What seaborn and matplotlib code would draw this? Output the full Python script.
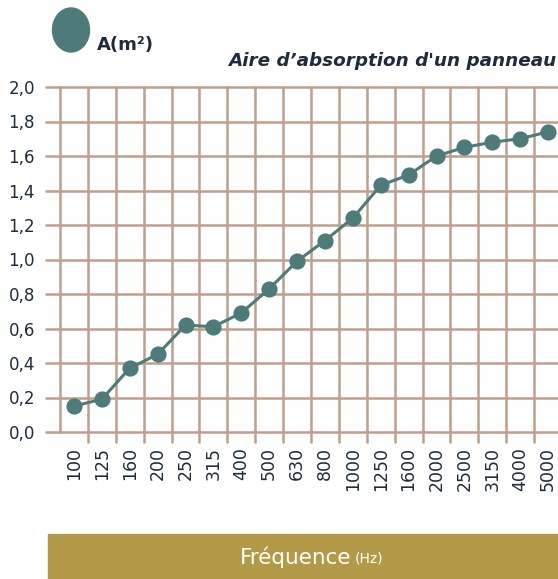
import numpy as np
import pandas as pd
import matplotlib
matplotlib.use("Agg")
import matplotlib.pyplot as plt
import seaborn as sns
from matplotlib.patches import Ellipse, Rectangle
from matplotlib.ticker import FixedLocator, FuncFormatter

# values
frequencies = ["100", "125", "160", "200", "250", "315", "400", "500", "630",
               "800", "1000", "1250", "1600", "2000", "2500", "3150", "4000", "5000"]
absorption = [0.15, 0.19, 0.37, 0.45, 0.62, 0.61, 0.69, 0.83, 0.99,
              1.11, 1.24, 1.43, 1.49, 1.60, 1.65, 1.68, 1.70, 1.74]
y_ticks = [0.0, 0.2, 0.4, 0.6, 0.8, 1.0, 1.2, 1.4, 1.6, 1.8, 2.0]

TEAL = "#4e7b7a"
GRID = "#bf9f8c"
INK = "#1d2b3b"
GOLD = "#b39a48"

sns.set_style("white")
plt.rcParams["font.family"] = ["DejaVu Sans"]

df = pd.DataFrame({"freq": frequencies, "A": absorption})

W, H = 558, 579
fig = plt.figure(figsize=(W / 100, H / 100), dpi=100)
ax = fig.add_axes([60 / W, (H - 432) / H, 502 / W, 345 / H])

sns.pointplot(data=df, x="freq", y="A", order=frequencies, color=TEAL,
              markers="o", markersize=10, linewidth=2.2, ax=ax, zorder=5)

n = len(frequencies)
ax.set_xlim(-0.5, n - 0.5)
ax.set_ylim(0, 2.0)

# grid on category boundaries (not clipped so edge lines keep full width)
for b in np.arange(-0.5, n, 1.0):
    ax.axvline(b, color=GRID, lw=1.8, zorder=1, clip_on=False)
for v in y_ticks:
    ax.axhline(v, color=GRID, lw=1.8, zorder=1, clip_on=False)

for s in ax.spines.values():
    s.set_visible(False)

ax.set_yticks(y_ticks)
ax.yaxis.set_major_formatter(FuncFormatter(lambda v, p: f"{v:.1f}".replace(".", ",")))
ax.tick_params(axis="y", length=11, width=1.8, color=GRID, pad=7,
               labelsize=12, labelcolor=INK, left=True)

ax.set_xticks(range(n))
ax.set_xticklabels(frequencies, rotation=90)
ax.tick_params(axis="x", which="major", length=0, pad=11,
               labelsize=12.5, labelcolor=INK)
ax.xaxis.set_minor_locator(FixedLocator(np.arange(0.5, n, 1.0)))
ax.tick_params(axis="x", which="minor", length=8, width=1.8, color=GRID, bottom=True)
ax.set_xlabel("")
ax.set_ylabel("")

# legend blob and label
fig.patches.append(Ellipse((71 / W, 1 - 30 / H), 37 / W, 44 / H,
                           transform=fig.transFigure, color=TEAL, zorder=3))
fig.text(97 / W, 1 - 45 / H, "A(m²)", fontsize=13, fontweight="bold",
         color=INK, va="center", ha="left")

# title along the right edge
fig.text(556 / W, 1 - 61 / H, "Aire d’absorption d'un panneau", fontsize=13.2,
         fontweight="bold", fontstyle="italic", color=INK, ha="right", va="center")

# bottom band with axis title
fig.patches.append(Rectangle((48 / W, 0), 1 - 48 / W, 45 / H,
                             transform=fig.transFigure, color=GOLD, zorder=0))
fig.text(351 / W, 1 - 557 / H, "Fréquence", fontsize=15.5, color="white",
         ha="right", va="center")
fig.text(355 / W, 1 - 559 / H, "(Hz)", fontsize=10, color="white",
         ha="left", va="center")

fig.savefig("out.png", dpi=100)
